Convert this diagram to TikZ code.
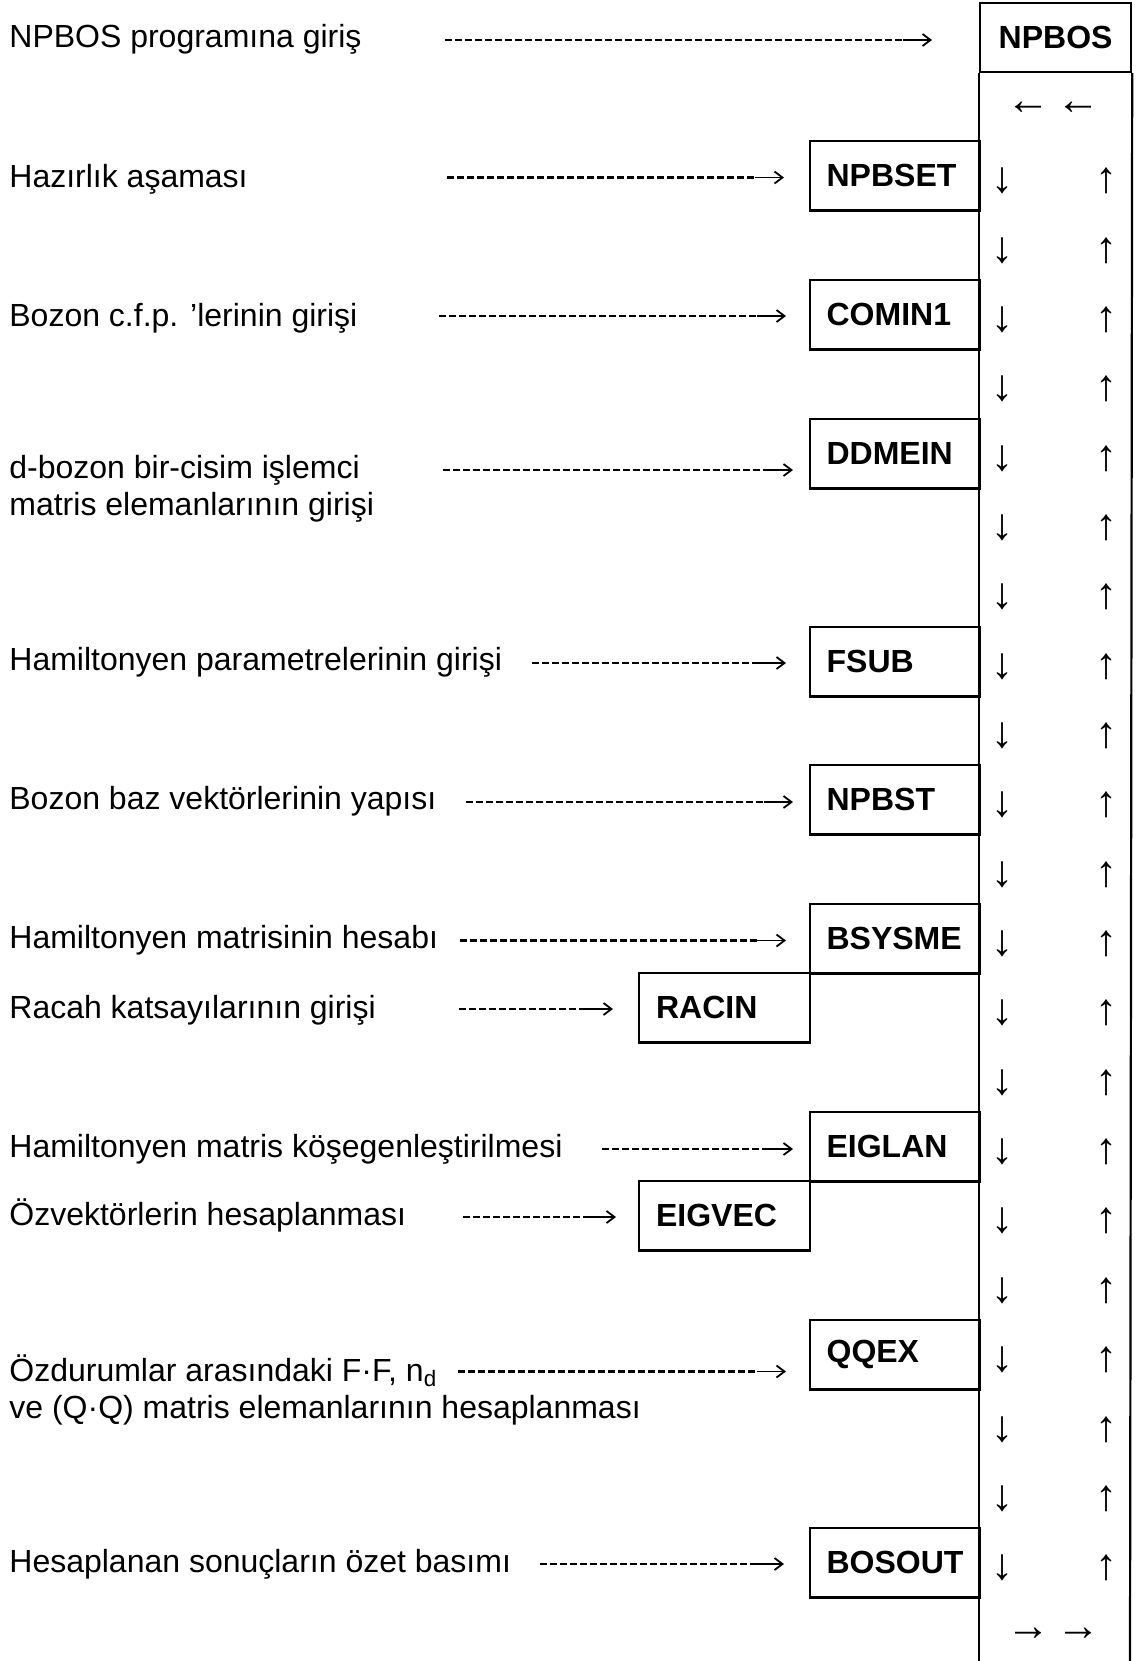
\documentclass[tikz,border=0pt]{standalone}
\usepackage{fontspec}
\setmainfont{Liberation Sans}
\usetikzlibrary{arrows.meta}
\begin{document}
\begin{tikzpicture}[x=0.5pt,y=-0.5pt,
  every node/.style={font=\fontsize{16pt}{18.5pt}\selectfont},
  lbl/.style={anchor=base west, inner sep=0pt, align=left},
  sub/.style={draw, line width=1.1pt, anchor=north west, minimum width=85.25pt,
    minimum height=34.7pt, inner xsep=8.5pt, text width=68.25pt, align=left,
    font=\fontsize{16pt}{18.5pt}\selectfont\bfseries},
  dsh/.style={dash pattern=on 3.5pt off 1.5pt, line width=1.2pt},
  tipseg/.style={line width=0.9pt, -{Straight Barb[length=4pt,width=6pt]}},
  glyph/.style={inner sep=0pt, font=\fontsize{22pt}{24pt}\selectfont},
  colline/.style={line width=1.1pt}
]
\useasboundingbox[fill=white] (0,0) rectangle (1137,1661);

% main column
\node[draw, line width=1.1pt, anchor=north west, minimum width=75.5pt, minimum height=34.5pt,
  font=\fontsize{16pt}{18.5pt}\selectfont\bfseries] (npbos) at (979,2) {NPBOS};
\coordinate (colL) at (979,1661);
\coordinate (colR) at (1130,1661);
\draw[colline] (npbos.south west) -- (colL);
\draw[colline] (npbos.south east) -- (colR);

% sub boxes
\node[sub] (npbset) at (808.5,140) {NPBSET};
\node[sub] (comin) at (808.5,279) {COMIN1};
\node[sub] (ddmein) at (808.5,418) {DDMEIN};
\node[sub] (fsub) at (808.5,626) {FSUB};
\node[sub] (npbst) at (808.5,764) {NPBST};
\node[sub] (bsysme) at (808.5,903) {BSYSME};
\node[sub] (racin) at (638,972) {RACIN};
\node[sub] (eiglan) at (808.5,1111) {EIGLAN};
\node[sub] (eigvec) at (638,1180) {EIGVEC};
\node[sub] (qqex) at (808.5,1319) {QQEX};
\node[sub] (bosout) at (808.5,1527) {BOSOUT};

% column arrows
\node[glyph] (la1) at (1028,108) {←};
\node[glyph] (la2) at (1078,108) {←};
\node[glyph] (ra1) at (1028,1634) {→};
\node[glyph] (ra2) at (1078,1634) {→};
\foreach \j in {0,...,20}{
  \node[glyph] (dn\j) at (1002,181+\j*69.35) {↓};
  \node[glyph] (up\j) at (1106,181+\j*69.35) {↑};
}

% left texts
\node[lbl] (t0) at (9,47) {NPBOS programına giriş};
\node[lbl] (t1) at (9,187) {Hazırlık aşaması};
\node[lbl] (t2) at (9,326.5) {Bozon c.f.p. ’lerinin girişi};
\node[lbl] (t3) at (9,515.5) {d-bozon bir-cisim işlemci\\matris elemanlarının girişi};
\node[lbl] (t4) at (9,670.5) {Hamiltonyen parametrelerinin girişi};
\node[lbl] (t5) at (9,809.5) {Bozon baz vektörlerinin yapısı};
\node[lbl] (t6) at (9,948.5) {Hamiltonyen matrisinin hesabı};
\node[lbl] (t7) at (9,1018.5) {Racah katsayılarının girişi};
\node[lbl] (t8) at (9,1157) {Hamiltonyen matris köşegenleştirilmesi};
\node[lbl] (t9) at (9,1225.5) {Özvektörlerin hesaplanması};
\node[lbl] (t10) at (9,1418) {Özdurumlar arasındaki F·F, n\textsubscript{d}\\ve (Q·Q) matris elemanlarının hesaplanması};
\node[lbl] (t11) at (9,1572.5) {Hesaplanan sonuçların özet basımı};

% dashed connectors
\foreach \n/\sx/\ex/\yy in {0/445/932/40, 1/447/784/177.5, 2/439/786/316, 3/443/793/470,
   4/532/786/663, 5/466/793/802, 6/460/786/940.5, 7/459/613/1009, 8/602/793/1149,
   9/463/616/1217, 10/458/786/1371.5, 11/540/784/1564}{
  \coordinate (ds\n) at (\sx,\yy);
  \coordinate (de\n) at (\ex,\yy);
  \coordinate (dm\n) at (\ex-29,\yy);
  \draw[dsh] (ds\n) -- (dm\n);
  \draw[tipseg] (dm\n) -- (de\n);
}
\end{tikzpicture}
\end{document}
